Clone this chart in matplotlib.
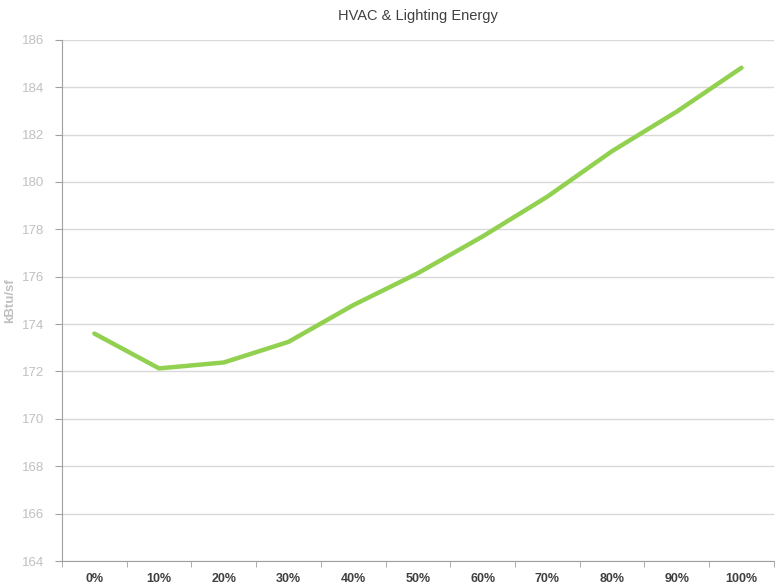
import numpy as np
import matplotlib
matplotlib.use("Agg")
import matplotlib.pyplot as plt

plt.rcParams['font.family'] = ['Liberation Sans Narrow', 'Liberation Sans', 'DejaVu Sans']

# data
categories = ["0%", "10%", "20%", "30%", "40%", "50%", "60%", "70%", "80%", "90%", "100%"]
energy = [173.6, 172.13, 172.38, 173.25, 174.8, 176.15, 177.7, 179.38, 181.3, 182.97, 184.82]
y_ticks = list(range(164, 187, 2))

fig = plt.figure(figsize=(7.78, 5.85), dpi=100)
ax = fig.add_axes([0.0797, 0.041, 0.915, 0.891])

x = np.arange(len(categories))
ax.plot(x, energy, color="#92d050", lw=3.2, solid_capstyle="round", solid_joinstyle="round", zorder=3)

ax.set_xlim(-0.5, len(categories) - 0.5)
ax.set_ylim(164, 186)
ax.set_yticks(y_ticks)
ax.set_xticks(x)
ax.set_xticklabels(categories, fontsize=9, fontweight="bold", color="#404040")
ax.set_xticks(np.arange(-0.5, len(categories), 1), minor=True)
ax.tick_params(axis="x", which="major", length=0, pad=8.5)
ax.tick_params(axis="x", which="minor", length=4, color="#a0a0a0", direction="out")
ax.tick_params(axis="y", length=5, color="#a0a0a0", labelsize=9.5, labelcolor="#c0c0c0", pad=8)

ax.grid(axis="y", color="#d9d9d9", lw=1)
ax.set_axisbelow(True)
for s in ["top", "right"]:
    ax.spines[s].set_visible(False)
ax.spines["left"].set_color("#a0a0a0")
ax.spines["bottom"].set_color("#a0a0a0")

ax.set_ylabel("kBtu/sf", fontsize=9.5, fontweight="bold", color="#c0c0c0")
ax.yaxis.set_label_coords(-0.064, 0.5)
ax.set_title("HVAC & Lighting Energy", fontsize=10.5, color="#404040", pad=14)

fig.savefig("out.png", dpi=100)
